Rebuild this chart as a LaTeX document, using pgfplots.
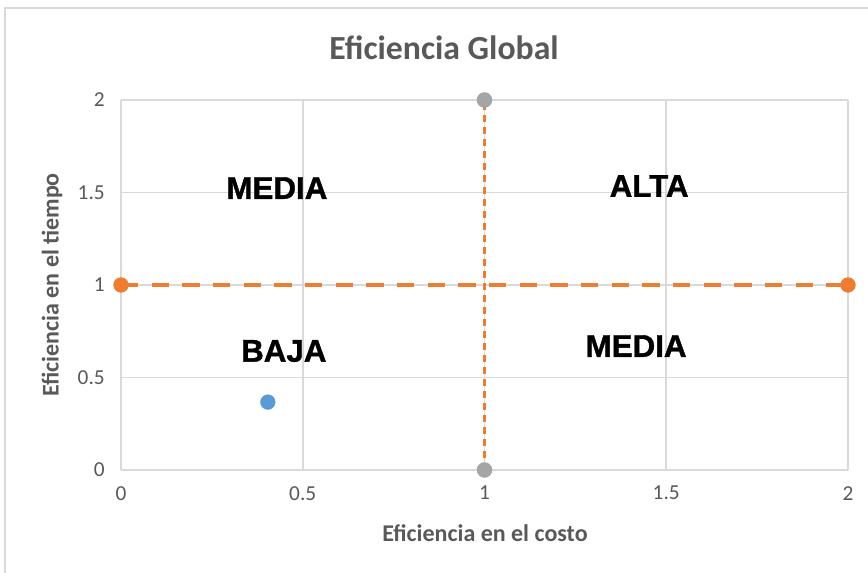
\documentclass[border=0pt]{standalone}
\usepackage{pgfplots}
\pgfplotsset{compat=1.18}
\usepackage{fontspec}
\setmainfont{Carlito}
\newfontfamily\arialf{Liberation Sans Bold}[FakeBold=1.2]
\definecolor{gridc}{HTML}{D9D9D9}
\definecolor{txtc}{HTML}{595959}
\definecolor{orng}{HTML}{ED7D31}
\definecolor{grayc}{HTML}{A5A5A5}
\definecolor{bluec}{HTML}{5B9BD5}
\begin{document}
\begin{tikzpicture}
\begin{axis}[
  at={(0,0)}, anchor=south west,
  scale only axis,
  width=545.25pt, height=277.5pt,
  xmin=0, xmax=2, ymin=0, ymax=2,
  xtick={0,0.5,1,1.5,2}, ytick={0,0.5,1,1.5,2},
  grid=major,
  major grid style={gridc, line width=1.2pt},
  axis line style={draw=none},
  axis x line*=bottom,
  tick style={draw=none},
  xticklabel style={font=\fontsize{16}{19}\selectfont, text=txtc, anchor=north, inner sep=0pt, yshift=-12pt},
  yticklabel style={font=\fontsize{16}{19}\selectfont, text=txtc, anchor=east, inner sep=0pt, xshift=-12pt},
  /pgf/number format/assume math mode=true,
  clip=false,
]
\addplot[gridc, line width=1.5pt] coordinates {(0,0) (2,0)};
\addplot[orng, line width=2.5pt, dash pattern=on 13pt off 10pt, mark=*, mark size=4.5pt, mark options={solid, fill=orng, draw=orng}] coordinates {(0,1) (2,1)};
\addplot[orng, line width=2.6pt, dash pattern=on 5.5pt off 3.5pt, mark=*, mark size=4.5pt, mark options={solid, fill=grayc, draw=grayc}] coordinates {(1,0) (1,2)};
\addplot[only marks, mark=*, mark size=5.5pt, mark options={fill=bluec, draw=bluec}] coordinates {(0.404,0.367)};
\node[font=\arialf\fontsize{23.5}{28}\selectfont] at (axis cs:0.429,1.524) {MEDIA};
\node[font=\arialf\fontsize{23.5}{28}\selectfont] at (axis cs:1.453,1.535) {ALTA};
\node[font=\arialf\fontsize{23.5}{28}\selectfont] at (axis cs:0.448,0.643) {BAJA};
\node[font=\arialf\fontsize{23.5}{28}\selectfont] at (axis cs:1.417,0.670) {MEDIA};
\end{axis}
\node[font=\bfseries\fontsize{25.3}{30}\selectfont, text=txtc] at (242.25pt,316.5pt) {Eficiencia Global};
\node[font=\bfseries\fontsize{18}{22}\selectfont, text=txtc] at (273pt,-47.25pt) {Eficiencia en el costo};
\node[font=\bfseries\fontsize{18}{22}\selectfont, text=txtc, rotate=90] at (-51.75pt,138.75pt) {Eficiencia en el tiempo};
\draw[gridc, line width=1.5pt] (-87pt,-77.25pt) -- (-87pt,346.5pt) -- (560.25pt,346.5pt);
\pgfresetboundingbox
\path[use as bounding box] (-90.75pt,-77.25pt) rectangle (560.25pt,352.5pt);
\end{tikzpicture}
\end{document}
